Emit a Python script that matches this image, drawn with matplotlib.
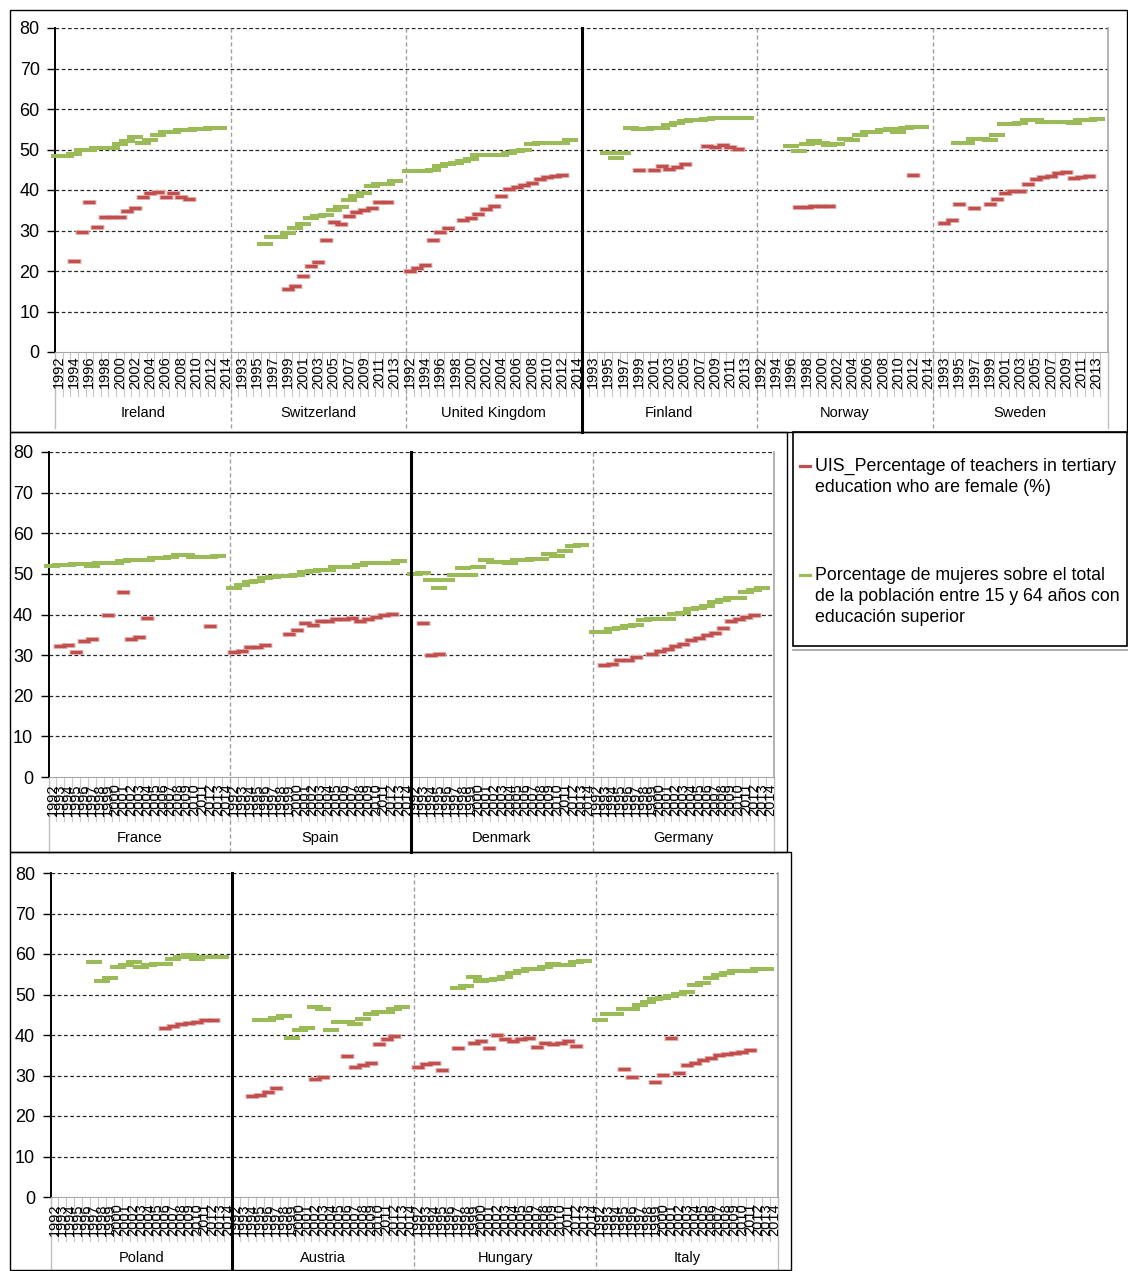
import numpy as np
import matplotlib
matplotlib.use("Agg")
import matplotlib.pyplot as plt
from matplotlib.lines import Line2D
from matplotlib.patches import Rectangle

plt.rcParams['font.family'] = ['Liberation Sans', 'DejaVu Sans']

years = list(range(1992, 2015))
n = None

# UIS_Percentage of teachers in tertiary education who are female (%)
# and share of women among 15-64 year olds with tertiary education, 1992-2014
ireland_teachers = [n, n, 22.4, 29.7, 37.0, 30.9, 33.4, 33.4, 33.4, 34.9, 35.6, 38.3, 39.2, 39.6, 38.3, 39.2, 38.3, 37.7, n, n, n, n, n]
ireland_women = [48.5, 48.5, 48.8, 50.0, 50.0, 50.4, 50.4, 50.4, 51.4, 52.2, 53.2, 51.7, 52.4, 53.7, 54.4, 54.4, 54.9, 54.9, 55.1, 55.1, 55.4, 55.4, n]
switzerland_teachers = [n, n, n, n, n, n, n, 15.6, 16.3, 18.8, 21.2, 22.1, 27.6, 32.2, 31.6, 33.7, 34.6, 35.0, 35.6, 37.0, 37.0, n, n]
switzerland_women = [n, n, n, n, 26.7, 28.5, 28.5, 29.5, 30.5, 31.7, 33.2, 33.6, 33.8, 35.1, 35.9, 37.6, 38.5, 39.3, 41.1, 41.6, 41.6, 42.3, n]
uk_teachers = [19.9, 20.8, 21.5, 27.6, 29.7, 30.6, n, 32.5, 33.1, 34.0, 35.2, 36.1, 38.6, 40.2, 40.7, 41.3, 41.7, 42.6, 43.2, 43.5, 43.8, n, n]
uk_women = [44.8, 44.8, 44.8, 45.0, 46.0, 46.4, 46.7, 47.2, 47.7, 48.6, 48.6, 48.6, 48.7, 49.2, 49.7, 50.0, 51.4, 51.5, 51.7, 51.7, 51.7, 52.4, n]
finland_teachers = [n, n, n, n, n, n, n, 45.0, n, 45.0, 45.9, 45.3, 45.6, 46.3, n, n, 50.9, 50.6, 51.2, 50.6, 50.2, n, n]
finland_women = [n, n, n, 49.2, 48.0, 49.2, 55.4, 55.1, 55.1, 55.2, 55.3, 56.0, 56.5, 57.0, 57.3, 57.4, 57.6, 57.7, 57.7, 57.9, 57.9, 57.9, n]
norway_teachers = [n, n, n, n, n, 35.8, 35.8, 36.1, 36.1, 36.1, n, n, n, n, n, n, n, n, n, n, 43.8, n, n]
norway_women = [n, n, n, n, 50.9, 49.7, 51.4, 52.0, 51.6, 51.0, 51.4, 52.6, 52.4, 53.7, 54.2, 54.2, 54.8, 55.1, 54.3, 55.4, 55.6, 55.6, n]
sweden_teachers = [n, 31.9, 32.5, 36.5, n, 35.6, n, 36.5, 37.9, 39.2, 39.8, 39.8, 41.6, 42.6, 43.2, 43.5, 44.1, 44.4, 42.9, 43.2, 43.5, n, n]
sweden_women = [n, n, n, 51.7, 51.7, 52.7, 52.7, 52.4, 53.7, 56.4, 56.4, 56.6, 57.4, 57.4, 56.9, 56.9, 56.9, 56.9, 56.6, 57.4, 57.4, 57.6, n]

france_teachers = [n, 32.2, 32.5, 30.7, 33.4, 34.0, n, 39.8, n, 45.6, 34.0, 34.4, 39.2, n, n, n, n, n, n, n, 37.1, n, n]
france_women = [52.0, 52.2, 52.3, 52.4, 52.4, 52.0, 52.8, 52.8, 52.8, 53.1, 53.3, 53.3, 53.5, 53.8, 53.8, 54.1, 54.7, 54.7, 54.2, 54.2, 54.2, 54.5, n]
spain_teachers = [30.7, 31.0, 32.0, 32.0, 32.5, n, n, 35.3, 36.2, 38.0, 37.4, 38.3, 38.3, 38.9, 38.9, 39.2, 38.3, 38.9, 39.5, 39.9, 40.1, n, n]
spain_women = [46.5, 47.2, 48.0, 48.3, 49.0, 49.3, 49.5, 49.5, 49.7, 50.5, 50.6, 50.9, 50.9, 51.6, 51.6, 51.6, 52.1, 52.6, 52.6, 52.7, 52.7, 53.1, n]
denmark_teachers = [n, 38.0, 30.0, 30.3, n, n, n, n, n, n, n, n, n, n, n, n, n, n, n, n, n, n, n]
denmark_women = [49.9, 50.3, 48.5, 46.5, 48.5, 49.8, 51.5, 49.8, 51.8, 53.5, 52.9, 52.9, 52.7, 53.4, 53.4, 53.6, 53.6, 55.0, 54.5, 55.7, 56.9, 57.2, n]
germany_teachers = [n, 27.5, 27.9, 28.8, 28.8, 29.5, n, 30.3, 31.0, 31.4, 32.2, 32.8, 33.7, 34.3, 35.0, 35.5, 36.6, 38.5, 38.9, 39.5, 39.8, n, n]
germany_women = [35.7, 35.7, 36.4, 36.8, 37.2, 37.5, 38.6, 38.8, 39.0, 39.0, 40.1, 40.4, 41.4, 41.7, 42.1, 43.1, 43.5, 44.1, 44.1, 45.6, 46.0, 46.6, n]

poland_teachers = [n, n, n, n, n, n, n, n, n, n, n, n, n, n, 41.7, 42.1, 42.7, 43.0, 43.3, 43.6, 43.6, n, n]
poland_women = [n, n, n, n, n, 58.0, 53.3, 54.0, 56.7, 57.3, 58.0, 56.8, 57.2, 57.5, 57.5, 58.7, 59.3, 59.8, 58.7, 59.3, 59.3, 59.3, n]
austria_teachers = [n, n, 24.9, 25.2, 26.0, 27.0, n, n, n, n, 29.2, 29.6, n, n, 34.7, 32.2, 32.6, 33.1, 37.7, 38.9, 39.8, n, n]
austria_women = [n, n, n, 43.7, 43.7, 44.1, 44.6, 39.2, 41.2, 41.7, 46.9, 46.4, 41.2, 43.2, 43.2, 42.6, 43.9, 45.1, 45.8, 45.8, 46.5, 46.9, n]
hungary_teachers = [32.2, 32.8, 33.2, 31.3, n, 36.8, n, 38.1, 38.6, 36.8, 40.1, 39.0, 38.6, 39.0, 39.3, 37.1, 38.0, 37.7, 38.1, 38.6, 37.4, n, n]
hungary_women = [n, n, n, n, n, 51.5, 52.1, 54.3, 53.4, 53.5, 53.8, 54.3, 55.3, 55.7, 56.2, 56.4, 56.7, 57.5, 57.4, 57.3, 58.0, 58.2, n]
italy_teachers = [n, n, n, 31.6, 29.6, n, n, 28.5, 30.1, 39.2, 30.7, 32.5, 33.1, 33.8, 34.4, 35.0, 35.35, 35.6, 35.7, 36.25, n, n, n]
italy_women = [43.8, 45.1, 45.1, 46.5, 46.5, 47.5, 48.1, 48.8, 49.2, 49.6, 50.2, 50.6, 52.3, 52.9, 54.0, 54.8, 55.35, 55.8, 55.8, 55.9, 56.2, 56.25, n]

RED = '#C0504D'
GREEN = '#9BBB59'
W, H = 1128, 1271

fig = plt.figure(figsize=(W / 100, H / 100), dpi=100)


def fx(x):
    return x / W


def fy(y):
    return 1 - y / H


def to_array(series):
    return np.array([np.nan if v is None else v for s in series for v in s], dtype=float)


def draw_panel(box, names, teachers, women, step, solid_at, frame_bottom, year_gap):
    left, top, right, bottom = box
    h = bottom - top
    ax = fig.add_axes([fx(left), fy(bottom), (right - left) / W, h / H])
    ncat = len(years) * len(names)
    x = np.arange(ncat)
    red = to_array(teachers)
    green = to_array(women)

    ax.set_xlim(-0.5, ncat - 0.5)
    ax.set_ylim(0, 80)
    for v in range(10, 81, 10):
        ax.axhline(v, color='#262626', lw=0.9, ls=(0, (3, 2)), zorder=1)

    ax.plot(x, red, ls='none', marker='_', ms=9.4, mew=3.6, color='#EDBDBC', clip_on=False, zorder=3)
    ax.plot(x, red, ls='none', marker='_', ms=8.6, mew=2.4, color=RED, clip_on=False, zorder=4)
    ax.plot(x, green, ls='none', marker='_', ms=11.5, mew=2.9, color=GREEN, clip_on=False, zorder=5)

    ax.spines['top'].set_visible(False)
    ax.spines['left'].set_color('black')
    ax.spines['left'].set_linewidth(1.4)
    ax.spines['bottom'].set_color('#A6A6A6')
    ax.spines['right'].set_color('#A6A6A6')
    ax.spines['right'].set_linewidth(1.2)
    ax.set_xticks([])
    ax.set_yticks(range(0, 81, 10))
    ax.tick_params(axis='y', length=6, width=1, color='black', labelsize=13, pad=5)

    tr = ax.get_xaxis_transform()
    # category separators in the label area
    for b in range(ncat + 1):
        ax.plot([b - 0.5, b - 0.5], [0, -44 / h], color='#C8C8C8', lw=0.8,
                transform=tr, clip_on=False, zorder=2)
    # group separators
    for g in range(len(names) + 1):
        bx = g * len(years) - 0.5
        if g == solid_at:
            ax.plot([bx, bx], [1, -(frame_bottom - bottom) / h], color='black', lw=2.2,
                    transform=tr, clip_on=False, zorder=6)
        elif g == 0 or g == len(names):
            ax.plot([bx, bx], [0, -76 / h], color='#BFBFBF', lw=1,
                    transform=tr, clip_on=False, zorder=2)
        else:
            ax.plot([bx, bx], [1, -76 / h], color='#A0A0A0', lw=1, ls=(0, (3, 2)),
                    transform=tr, clip_on=False, zorder=2)

    for i in range(0, ncat, step):
        ax.text(i, -year_gap / h, str(years[i % len(years)]), rotation=90, ha='center',
                va='top', fontsize=10.5, transform=tr)
    for g, name in enumerate(names):
        ax.text(g * len(years) + 11, -61 / h, name, ha='center', va='center',
                fontsize=10.5, transform=tr)
    return ax


draw_panel((55, 28, 1108, 352),
           ['Ireland', 'Switzerland', 'United Kingdom', 'Finland', 'Norway', 'Sweden'],
           [ireland_teachers, switzerland_teachers, uk_teachers, finland_teachers, norway_teachers, sweden_teachers],
           [ireland_women, switzerland_women, uk_women, finland_women, norway_women, sweden_women],
           2, 3, 432, 4)
draw_panel((48.5, 452, 774, 777),
           ['France', 'Spain', 'Denmark', 'Germany'],
           [france_teachers, spain_teachers, denmark_teachers, germany_teachers],
           [france_women, spain_women, denmark_women, germany_women],
           1, 2, 852, 6)
draw_panel((50.5, 873, 778, 1197),
           ['Poland', 'Austria', 'Hungary', 'Italy'],
           [poland_teachers, austria_teachers, hungary_teachers, italy_teachers],
           [poland_women, austria_women, hungary_women, italy_women],
           1, 1, 1271, 6)

# chart frames
for x0, y0, x1, y1 in [(10, 10, 1127, 432), (10, 432, 787, 852), (10, 852, 791, 1270)]:
    fig.add_artist(Rectangle((fx(x0), fy(y1)), (x1 - x0) / W, (y1 - y0) / H,
                             transform=fig.transFigure, fill=False, ec='black', lw=1))

# legend box
fig.add_artist(Rectangle((fx(793), fy(646)), (1127 - 793) / W, (646 - 432) / H,
                         transform=fig.transFigure, fill=False, ec='black', lw=1.2))
fig.add_artist(Line2D([fx(793), fx(1128)], [fy(649.5)] * 2, color='#A0A0A0', lw=1.2))
fig.add_artist(Line2D([fx(800), fx(810)], [fy(466)] * 2, color=RED, lw=2.3))
fig.add_artist(Line2D([fx(800), fx(810)], [fy(575)] * 2, color=GREEN, lw=2.3))
legend_lines = [(466, 'UIS_Percentage of teachers in tertiary'),
                (487, 'education who are female (%)'),
                (575, 'Porcentage de mujeres sobre el total'),
                (596, 'de la población entre 15 y 64 años con'),
                (617, 'educación superior')]
for ly, txt in legend_lines:
    fig.text(fx(815), fy(ly), txt, ha='left', va='center', fontsize=12.8)

fig.savefig('out.png', dpi=100)
